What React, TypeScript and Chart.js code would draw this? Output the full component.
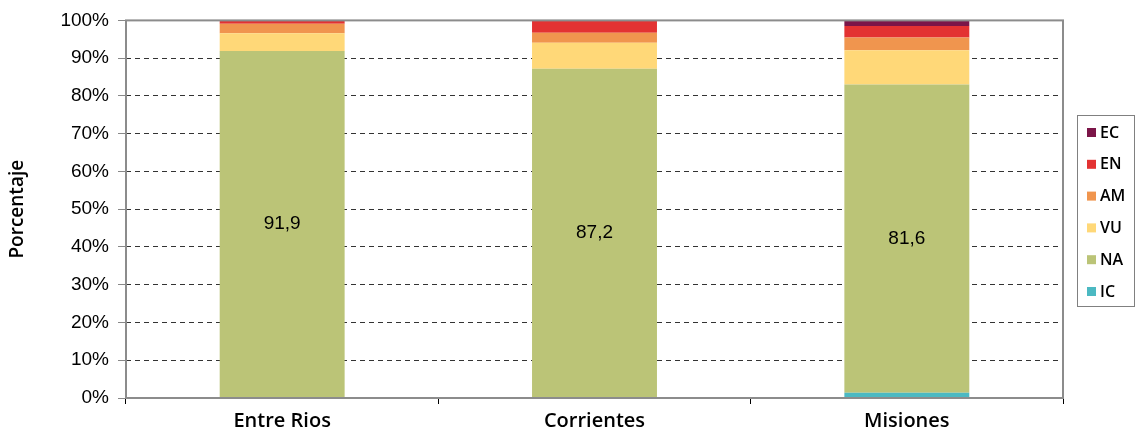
import React, { useEffect, useRef } from "react";
import { Chart, registerables } from "chart.js";

Chart.register(...registerables);

const categories = ["Entre Rios", "Corrientes", "Misiones"];
const seriesNames = ["IC", "NA", "VU", "AM", "EN", "EC"];
const IC = [0, 0, 1.4];
const NA = [91.9, 87.2, 81.6];
const VU = [4.7, 6.9, 9.1];
const AM = [2.5, 2.6, 3.4];
const EN = [0.9, 3.3, 3.0];
const EC = [0, 0, 1.5];
const yTicks = [0, 10, 20, 30, 40, 50, 60, 70, 80, 90, 100];
const labelledSeries = "NA";

const seriesValues = [IC, NA, VU, AM, EN, EC];
const seriesColors = ["#4BB9C2", "#BBC477", "#FFD878", "#F0954E", "#E33232", "#7B1548"];

const borderPlugin = {
  id: "plotBorder",
  afterDatasetsDraw(chart: any) {
    const { ctx, chartArea } = chart;
    ctx.save();
    chart.data.datasets.forEach((ds: any, di: number) => {
      if (ds.label !== labelledSeries) return;
      const meta = chart.getDatasetMeta(di);
      meta.data.forEach((el: any, i: number) => {
        const v = ds.data[i];
        const cy = (el.y + el.base) / 2;
        ctx.fillStyle = "#000";
        ctx.font = "19px 'Liberation Sans', Arial, sans-serif";
        ctx.textAlign = "center";
        ctx.textBaseline = "middle";
        ctx.fillText(v.toFixed(1).replace(".", ","), el.x, cy);
      });
    });
    ctx.strokeStyle = "#8C8C8C";
    ctx.lineWidth = 2;
    ctx.strokeRect(chartArea.left, chartArea.top, chartArea.right - chartArea.left, chartArea.bottom - chartArea.top);
    ctx.restore();
  },
  afterDraw(chart: any) {
    const { ctx } = chart;
    ctx.save();
    const bx = 1077.5, by = 115.5, bw = 57, bh = 191;
    ctx.strokeStyle = "#808080";
    ctx.lineWidth = 1;
    ctx.strokeRect(bx, by, bw, bh);
    const items = chart.data.datasets.slice().reverse();
    items.forEach((ds: any, i: number) => {
      const cy = 133 + i * 31.8;
      ctx.fillStyle = ds.backgroundColor;
      ctx.fillRect(1087, cy - 5, 9, 9);
      ctx.fillStyle = "#000";
      ctx.font = "600 16px 'Open Sans', sans-serif";
      ctx.textAlign = "left";
      ctx.textBaseline = "middle";
      ctx.fillText(ds.label, 1100, cy);
    });
    ctx.restore();
  },
};

export default function App() {
  const ref = useRef<HTMLCanvasElement>(null);
  useEffect(() => {
    document.body.style.margin = "0";
    const chart = new Chart(ref.current!, {
      type: "bar",
      data: {
        labels: categories,
        datasets: seriesNames.map((n, i) => ({
          label: n,
          data: seriesValues[i],
          backgroundColor: seriesColors[i],
          borderWidth: 0,
          barPercentage: 0.4,
          categoryPercentage: 1,
        })),
      },
      options: {
        animation: false,
        responsive: false,
        layout: { padding: { top: 20, right: 73, left: 0, bottom: 0 } },
        plugins: { legend: { display: false }, tooltip: { enabled: false } },
        scales: {
          x: {
            stacked: true,
            offset: true,
            border: { display: false },
            grid: { offset: true, drawOnChartArea: false, drawTicks: true, tickLength: 6, tickColor: "#000", tickWidth: 1 },
            ticks: { color: "#000", font: { family: "'Open Sans', sans-serif", size: 20, weight: "600" }, padding: 5 },
            afterFit: (s: any) => { s.height = 30; },
          },
          y: {
            stacked: true,
            min: 0,
            max: 100,
            border: { display: false, dash: [5, 4] },
            afterBuildTicks: (s: any) => { s.ticks = yTicks.map((v) => ({ value: v })); },
            grid: { color: "#333", lineWidth: 1, tickBorderDash: [], tickColor: "#888", tickLength: 8, tickWidth: 1 },
            ticks: { color: "#000", font: { family: "'Liberation Sans', Arial, sans-serif", size: 19 }, padding: 9, callback: (v: any) => v + "%" },
            title: { display: true, text: "Porcentaje", color: "#000", font: { family: "'Open Sans', sans-serif", size: 19, weight: "600" }, padding: { top: 6, bottom: 0 } },
            afterFit: (s: any) => { s.width = 126; },
          },
        },
      },
      plugins: [borderPlugin],
    });
    return () => chart.destroy();
  }, []);
  return (
    <div style={{ width: 1136, height: 428 }}>
      <canvas ref={ref} width={1136} height={428} />
    </div>
  );
}
